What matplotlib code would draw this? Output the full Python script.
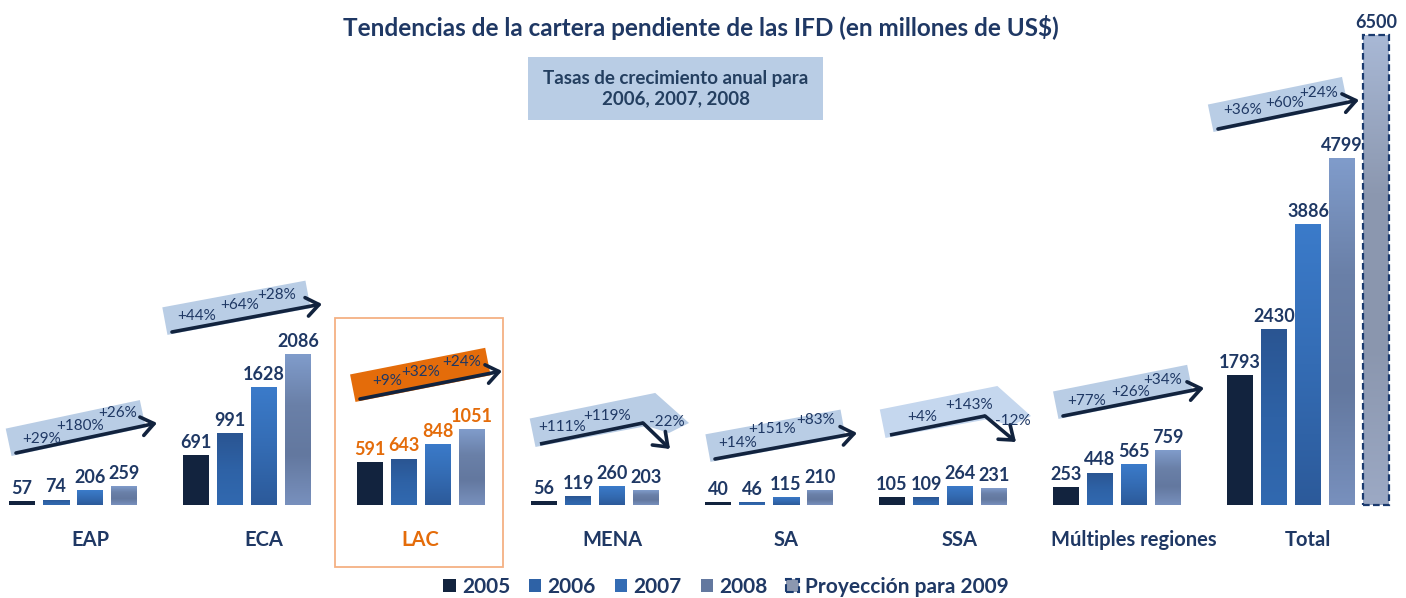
import numpy as np
import matplotlib
matplotlib.use('Agg')
import matplotlib.pyplot as plt
from matplotlib.patches import Polygon, Rectangle, Patch
from matplotlib.colors import LinearSegmentedColormap
import matplotlib.transforms as mtransforms

plt.rcParams['font.family'] = ['Lato', 'DejaVu Sans']

# ---------------- data ----------------
categories = ['EAP', 'ECA', 'LAC', 'MENA', 'SA', 'SSA', 'Múltiples regiones', 'Total']
series_names = ['2005', '2006', '2007', '2008']
v2005 = [57, 691, 591, 56, 40, 105, 253, 1793]
v2006 = [74, 991, 643, 119, 46, 109, 448, 2430]
v2007 = [206, 1628, 848, 260, 115, 264, 565, 3886]
v2008 = [259, 2086, 1051, 203, 210, 231, 759, 4799]
projection_name = 'Proyección para 2009'
projection_category = 'Total'
projection_value = 6500
growth_labels = [
    ['+29%', '+180%', '+26%'],
    ['+44%', '+64%', '+28%'],
    ['+9%', '+32%', '+24%'],
    ['+111%', '+119%', '-22%'],
    ['+14%', '+151%', '+83%'],
    ['+4%', '+143%', '-12%'],
    ['+77%', '+26%', '+34%'],
    ['+36%', '+60%', '+24%'],
]
highlight_category = 'LAC'
title = 'Tendencias de la cartera pendiente de las IFD (en millones de US$)'
subtitle = 'Tasas de crecimiento anual para\n2006, 2007, 2008'

# ---------------- style ----------------
NAVY = '#1f3864'
DARK = '#12233e'
ORANGE = '#e46c0a'
BANNER = '#b9cde5'
series_grad = [
    [DARK, DARK],
    ['#2a5592', '#2e62a6', '#3169b0'],
    ['#3b7bca', '#346cb4', '#2c5a9a'],
    ['#809ccb', '#6a80a8', '#63789f', '#7890bd'],
]
proj_grad = ['#a8b8d5', '#8c98b0', '#8a96ae', '#9ca9c4']

W, H = 1406, 598
fig = plt.figure(figsize=(W / 100, H / 100), dpi=100)
ax = fig.add_axes([0, 0, 1, 1])
CAT_PX, CAT0_PX, BASE_PX, PX_PER_UNIT = 174, 90, 505, 470 / 6500
XLIM = (-CAT0_PX / CAT_PX, (W - CAT0_PX) / CAT_PX)
YLIM = (-(H - BASE_PX) / PX_PER_UNIT, BASE_PX / PX_PER_UNIT)
ax.axis('off')

ov = fig.add_axes([0, 0, 1, 1])
ov.set_xlim(0, W)
ov.set_ylim(H, 0)
ov.axis('off')
ov.patch.set_alpha(0)

slot = 34 / CAT_PX
bw = 26 / CAT_PX
xc = np.arange(len(categories))
values = [v2005, v2006, v2007, v2008]

VAL_FS = 13


def gradient_fill(bars, colors):
    cmap = LinearSegmentedColormap.from_list('g', colors)
    grad = np.linspace(0, 1, 200).reshape(-1, 1)
    for b in bars:
        x0, y0 = b.get_x(), b.get_y()
        w, h = b.get_width(), b.get_height()
        im = ax.imshow(grad, cmap=cmap, extent=(x0, x0 + w, y0, y0 + h), origin='upper',
                       aspect='auto', zorder=b.get_zorder() + 0.1, interpolation='bilinear')
        im.set_clip_path(b)


hl = categories.index(highlight_category)
for j, vals in enumerate(values):
    xs = xc + (j - 2) * slot
    bars = ax.bar(xs, vals, width=bw, color=series_grad[j][0], zorder=2, linewidth=0)
    if j > 0:
        gradient_fill(bars, series_grad[j])
    for i, (x, v) in enumerate(zip(xs, vals)):
        ax.annotate(f'{v}', (x, v), xytext=(0, 3), textcoords='offset points',
                    ha='center', va='bottom', fontsize=VAL_FS, fontweight='bold',
                    color=ORANGE if i == hl else NAVY, zorder=5)

pi = categories.index(projection_category)
px_ = pi + 2 * slot
pbar = ax.bar([px_], [projection_value], width=bw, color=proj_grad[0], zorder=2, linewidth=0)
gradient_fill(pbar, proj_grad)
ax.bar([px_], [projection_value], width=bw, fill=False, edgecolor='#1a3a6e', linestyle=(0, (3, 1.5)),
       linewidth=1.6, zorder=4)
ax.annotate(f'{projection_value}', (px_, projection_value), xytext=(0, 3), textcoords='offset points',
            ha='center', va='bottom', fontsize=VAL_FS, fontweight='bold', color=NAVY, zorder=5)

ax.set_xlim(*XLIM)
ax.set_ylim(*YLIM)

# category labels
tr = mtransforms.blended_transform_factory(ax.transData, ov.transData)
label_x = list(xc.astype(float))
label_x[hl] = hl - 0.1
for i, c in enumerate(categories):
    ax.text(label_x[i], 540, c, transform=tr, ha='center', va='center', fontsize=14.5,
            fontweight='bold', color=ORANGE if i == hl else NAVY)

# title and subtitle box
ov.text(701, 27, title, ha='center', va='center', fontsize=17.5, fontweight='bold', color=NAVY)
ov.add_patch(Rectangle((528, 57), 295, 63, facecolor=BANNER, edgecolor='none'))
ov.text(675.5, 88.5, subtitle, ha='center', va='center', fontsize=13.5, fontweight='bold',
        color='#243f60', linespacing=1.25)

# LAC highlight frame
ov.add_patch(Rectangle((335, 318), 168, 249, facecolor='none', edgecolor='#f4b183', linewidth=1.3))

# ---------------- growth banners (pixel geometry of annotations) ----------------
arrow_start = [(16, 453), (172, 332), (360, 399), (540, 444), (715, 459), (890, 435), (1063, 416), (1218, 129)]
arrow_end = [(157, 423), (322, 304), (502, 371), (670, 449), (857, 433), (1016, 442), (1204, 388), (1359, 100)]
arrow_bend = [None, None, None, (643, 423), None, (985, 416), None, None]
text_pos = [
    [(42, 439), (80, 426), (118, 413)],
    [(197, 316), (240, 305), (277, 295)],
    [(387, 381), (421, 372), (462, 362)],
    [(562, 427), (607, 416), (667, 422)],
    [(738, 443), (772, 429), (816, 420)],
    [(922, 417), (969, 405), (1013, 421)],
    [(1087, 401), (1131, 392), (1163, 380)],
    [(1243, 110), (1285, 103), (1319, 93)],
]
banner_colors = [BANNER, BANNER, ORANGE, BANNER, BANNER, '#c5d7ee', BANNER, BANNER]
arrow_kw = dict(arrowstyle='->,head_length=0.6,head_width=0.45', lw=2.6, color=DARK,
                shrinkA=0, shrinkB=0, mutation_scale=15)

for g in range(len(categories)):
    s = np.array(arrow_start[g], float)
    e = np.array(arrow_end[g], float)
    b = arrow_bend[g]
    if b is None:
        d = e - s
        L = np.hypot(*d)
        u = d / L
        n = np.array([u[1], -u[0]])
        pts = [s - 5 * u - 2 * n, s - 5 * u + 26 * n, s + (L - 12) * u + 26 * n, s + (L - 12) * u - 2 * n]
        ov.add_patch(Polygon(pts, closed=True, facecolor=banner_colors[g], edgecolor='none', zorder=1))
        ov.annotate('', xy=e, xytext=s, arrowprops=arrow_kw, zorder=3)
    else:
        bb = np.array(b, float)
        d = bb - s
        L = np.hypot(*d)
        u = d / L
        n = np.array([u[1], -u[0]])
        tip = bb + np.array([46, 0])
        pts = [s - 5 * u - 2 * n, s - 5 * u + 27 * n, s + (L + 18) * u + 27 * n, tip,
               bb + np.array([26, 10]), bb + np.array([4, 3]), s - 5 * u - 2 * n]
        ov.add_patch(Polygon(pts, closed=True, facecolor=banner_colors[g], edgecolor='none', zorder=1))
        ov.plot([s[0], bb[0]], [s[1], bb[1]], color=DARK, lw=2.6, solid_capstyle='butt', zorder=3)
        ov.annotate('', xy=e, xytext=bb, arrowprops=arrow_kw, zorder=3)
    for (tx, ty), lab in zip(text_pos[g], growth_labels[g]):
        ov.text(tx, ty, lab, ha='center', va='center', fontsize=11, color=NAVY, zorder=4)

# ---------------- legend ----------------
handles = [Patch(facecolor=series_grad[j][len(series_grad[j]) // 2], edgecolor='none') for j in range(4)]
handles.append(Patch(facecolor=proj_grad[1], edgecolor='#1a3a6e', linestyle='--', linewidth=1.5))
fig.legend(handles, series_names + [projection_name], loc='center', bbox_to_anchor=(726 / W, 1 - 587 / H),
           ncol=5, frameon=False, prop={'weight': 'bold', 'size': 15}, labelcolor=NAVY,
           handlelength=0.6, handleheight=0.6, handletextpad=0.3, columnspacing=0.9)

fig.savefig('out.png', dpi=100)
